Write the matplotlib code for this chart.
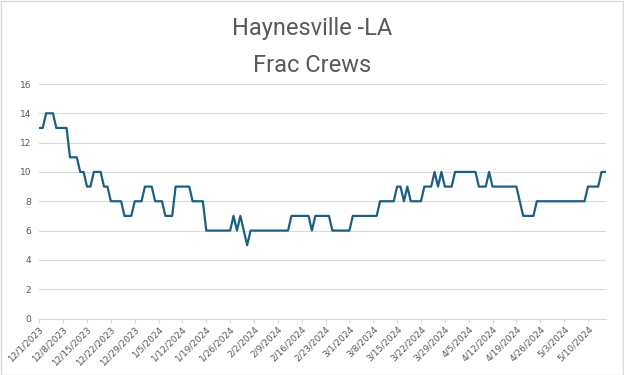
import matplotlib
matplotlib.use('Agg')

import pandas as pd
import matplotlib.pyplot as plt
import matplotlib.dates as mdates
from matplotlib.ticker import FixedLocator
from matplotlib.patches import Rectangle

# Daily frac crew count, Haynesville - LA, starting 12/1/2023
start_date = '2023-12-01'
crews = [13, 13, 14, 14, 14, 13, 13, 13, 13, 11, 11, 11, 10, 10, 9, 9, 10, 10, 10, 9,
         9, 8, 8, 8, 8, 7, 7, 7, 8, 8, 8, 9, 9, 9, 8, 8, 8, 7, 7, 7,
         9, 9, 9, 9, 9, 8, 8, 8, 8, 6, 6, 6, 6, 6, 6, 6, 6, 7, 6, 7,
         6, 5, 6, 6, 6, 6, 6, 6, 6, 6, 6, 6, 6, 6, 7, 7, 7, 7, 7, 7,
         6, 7, 7, 7, 7, 7, 6, 6, 6, 6, 6, 6, 7, 7, 7, 7, 7, 7, 7, 7,
         8, 8, 8, 8, 8, 9, 9, 8, 9, 8, 8, 8, 8, 9, 9, 9, 10, 9, 10, 9,
         9, 9, 10, 10, 10, 10, 10, 10, 10, 9, 9, 9, 10, 9, 9, 9, 9, 9, 9, 9,
         9, 8, 7, 7, 7, 7, 8, 8, 8, 8, 8, 8, 8, 8, 8, 8, 8, 8, 8, 8,
         8, 9, 9, 9, 9, 10, 10]
y_ticks = [0, 2, 4, 6, 8, 10, 12, 14, 16]
title_lines = ['Haynesville -LA', 'Frac Crews']

dates = pd.date_range(start_date, periods=len(crews), freq='D')
tick_dates = pd.date_range(start_date, dates[-1], freq='7D')   # weekly, like the excel date axis

gray_text = '#595959'
grid_col = '#d9d9d9'
line_col = '#1b5f82'

fig = plt.figure(figsize=(6.24, 3.75), dpi=100)
ax = fig.add_axes([39.3 / 624, 1 - 318.5 / 375, (606 - 39.3) / 624, (318.5 - 84) / 375])

ax.plot(dates, crews, color=line_col, linewidth=1.6)

ax.set_ylim(0, 16)
ax.set_yticks(y_ticks)
ax.set_xlim(dates[0], dates[-1] + pd.Timedelta(days=0.3))

ax.xaxis.set_major_locator(FixedLocator(mdates.date2num(tick_dates)))
ax.set_xticklabels([f'{d.month}/{d.day}/{d.year}' for d in tick_dates], rotation=45,
                   ha='right', va='top', rotation_mode='anchor')

ax.grid(axis='y', color=grid_col, linewidth=0.8)
ax.set_axisbelow(True)
for s in ['top', 'right', 'left']:
    ax.spines[s].set_visible(False)
ax.spines['bottom'].set_color(grid_col)
ax.spines['bottom'].set_linewidth(0.8)

ax.tick_params(axis='y', length=0, pad=6, labelsize=6.5, labelcolor=gray_text)
ax.tick_params(axis='x', length=3, width=0.8, color=grid_col, pad=1, labelsize=6.5, labelcolor=gray_text)

fig.text(0.5, 1 - 29 / 375, title_lines[0], ha='center', va='center', fontsize=17,
         color=gray_text, family='Roboto')
fig.text(0.5, 1 - 66 / 375, title_lines[1], ha='center', va='center', fontsize=17,
         color=gray_text, family='Roboto')

# light chart-area border
fig.patches.append(Rectangle((0.5 / 624, 0.5 / 375), 1 - 1.5 / 624, 1 - 1.5 / 375, transform=fig.transFigure,
                             fill=False, edgecolor=grid_col, linewidth=1))

fig.savefig('out.png', dpi=100)
